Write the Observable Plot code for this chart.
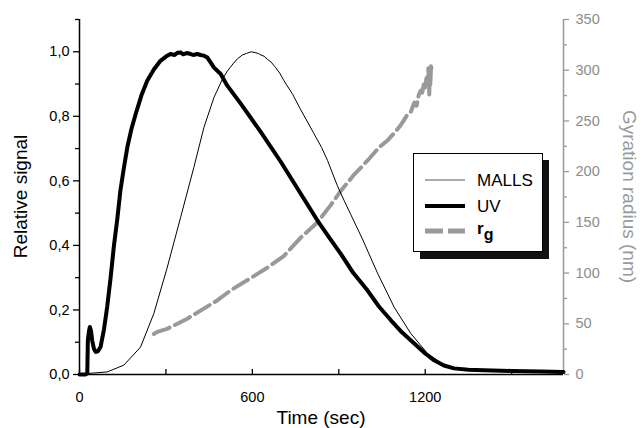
<!DOCTYPE html>
<html>
<head>
<meta charset="utf-8">
<script src="https://cdn.jsdelivr.net/npm/d3@7"></script>
<script src="https://cdn.jsdelivr.net/npm/@observablehq/plot@0.6"></script>
<style>
  html, body { margin: 0; padding: 0; background: #fff; }
  #chart svg { display: block; }
</style>
</head>
<body>
<div id="chart"></div>
<script>
// ---------- data ----------
const mallsTime   = [0, 27, 96, 154, 212, 258, 305, 351, 397, 432, 467, 496, 513, 535, 548, 565, 580, 596, 612, 622, 630, 641, 652, 665, 680, 695, 710, 740, 768, 790, 814, 840, 861, 895, 918, 942, 982, 1034, 1092, 1150, 1208, 1266, 1324, 1400, 1500, 1600, 1680];
const mallsSignal = [0, 0.003, 0.008, 0.029, 0.085, 0.189, 0.333, 0.487, 0.642, 0.766, 0.859, 0.915, 0.94, 0.965, 0.978, 0.99, 0.995, 1.0, 0.997, 0.994, 0.99, 0.986, 0.977, 0.968, 0.952, 0.934, 0.91, 0.868, 0.82, 0.785, 0.746, 0.704, 0.663, 0.585, 0.54, 0.495, 0.42, 0.315, 0.209, 0.127, 0.065, 0.029, 0.014, 0.01, 0.009, 0.008, 0.008];

const uvTime   = [0, 20, 27, 29, 33, 36, 40, 44, 50, 56, 64, 73, 85, 96, 108, 119, 131, 142, 154, 166, 180, 195, 215, 235, 258, 281, 300, 316, 330, 340, 351, 360, 372, 386, 395, 409, 420, 432, 444, 467, 490, 513, 559, 629, 698, 768, 826, 870, 907, 950, 1000, 1040, 1081, 1120, 1162, 1200, 1231, 1265, 1300, 1350, 1404, 1500, 1600, 1680];
const uvSignal = [0, 0, 0.003, 0.106, 0.135, 0.147, 0.135, 0.106, 0.08, 0.07, 0.072, 0.085, 0.14, 0.209, 0.3, 0.395, 0.48, 0.57, 0.64, 0.704, 0.76, 0.807, 0.865, 0.91, 0.945, 0.972, 0.985, 0.993, 0.99, 0.997, 0.998, 0.992, 0.996, 0.993, 0.99, 0.993, 0.99, 0.988, 0.982, 0.951, 0.931, 0.895, 0.84, 0.752, 0.66, 0.56, 0.477, 0.42, 0.374, 0.315, 0.26, 0.21, 0.168, 0.13, 0.096, 0.065, 0.044, 0.028, 0.019, 0.015, 0.013, 0.011, 0.009, 0.008];

const rgTime   = [258, 270, 304, 340, 374, 420, 478, 525, 594, 650, 710, 768, 826, 872, 907, 950, 1000, 1040, 1070, 1092, 1110, 1127, 1140, 1150, 1162, 1170, 1178, 1185, 1190, 1196, 1200, 1204, 1208, 1211, 1214, 1216, 1218, 1220, 1222];
const rgRadius = [40, 42, 45, 50, 55, 63, 73, 83, 95, 105, 117, 135, 150, 167, 181, 196, 211, 224, 231, 238, 244, 251, 257, 259, 268, 265, 276, 280, 278, 288, 283, 292, 290, 302, 276, 298, 285, 304, 300];

const xTicks       = [0, 600, 1200];
const xMinorTicks  = [300, 900, 1500];
const leftTicks    = [0, 0.2, 0.4, 0.6, 0.8, 1.0];
const leftMinor    = [0.1, 0.3, 0.5, 0.7, 0.9, 1.1];
const rightTicks   = [0, 50, 100, 150, 200, 250, 300, 350];
const rightMinor   = [25, 75, 125, 175, 225, 275, 325];

const seriesNames  = ["MALLS", "UV"];
const xLabel = "Time (sec)";
const yLabel = "Relative signal";
const y2Label = "Gyration radius (nm)";

// ---------- scales ----------
const xMax = 1680, yMax = 1.1, y2Max = 350;
const K = yMax / y2Max; // right-axis units -> left-axis units

const malls = mallsTime.map((t, i) => ({t, v: mallsSignal[i]}));
const uv = uvTime.map((t, i) => ({t, v: uvSignal[i]}));
const rg = rgTime.map((t, i) => ({t, v: rgRadius[i] * K}));

const W = 643, H = 428, mL = 79, mR = 80, mT = 19, mB = 54;
const frameH = H - mT - mB;
const gray = "#999999";
const grayText = "#8c8c8c";
const font = "'Liberation Sans', Arial, Helvetica, sans-serif";
const fmtComma = d => d.toFixed(1).replace(".", ",");

const svg = Plot.plot({
  width: W, height: H,
  marginLeft: mL, marginRight: mR, marginTop: mT, marginBottom: mB,
  style: {fontFamily: font, fontSize: "14.5px", background: "#fff", color: "#000", overflow: "visible"},
  x: {domain: [0, xMax]},
  y: {domain: [0, yMax]},
  marks: [
    // left axis
    Plot.axisY(leftTicks, {anchor: "left", tickSize: 6, tickPadding: 4, tickFormat: fmtComma, label: null, strokeWidth: 1.3}),
    Plot.axisY(leftMinor, {anchor: "left", tickSize: 4, tickPadding: 0, tickFormat: () => "", label: null, strokeWidth: 1.3}),
    // right axis (radius)
    Plot.axisY(rightTicks.map(d => d * K), {anchor: "right", tickSize: 5, tickPadding: 7, tickFormat: d => String(Math.round(d / K)), label: null, stroke: gray, fill: grayText, strokeWidth: 1.3}),
    Plot.axisY(rightMinor.map(d => d * K), {anchor: "right", tickSize: 3, tickPadding: 0, tickFormat: () => "", label: null, stroke: gray, strokeWidth: 1.3}),
    // bottom axis labels, inward ticks
    Plot.axisX(xTicks, {anchor: "bottom", tickSize: 0, tickPadding: 17, tickFormat: d => String(d), label: null}),
    Plot.tickX(xTicks.concat(xMinorTicks), {x: d => d, insetTop: frameH - 5, stroke: "#000", strokeWidth: 1.3}),
    // axis lines
    Plot.ruleX([xMax], {stroke: gray, strokeWidth: 1.5}),
    Plot.ruleX([0], {stroke: "#000", strokeWidth: 1.5}),
    Plot.ruleY([0], {stroke: "#000", strokeWidth: 1.5}),
    // series
    Plot.line(rg, {x: "t", y: "v", stroke: gray, strokeWidth: 4, strokeDasharray: "17,6", strokeLinejoin: "round"}),
    Plot.line(malls, {x: "t", y: "v", stroke: "#000", strokeWidth: 1}),
    Plot.line(uv, {x: "t", y: "v", stroke: "#000", strokeWidth: 4, strokeLinejoin: "round"})
  ]
});

document.getElementById("chart").appendChild(svg);

// ---------- axis titles ----------
const s = d3.select(svg);
s.append("text")
  .attr("transform", `translate(27,${mT + frameH / 2}) rotate(-90)`)
  .attr("text-anchor", "middle").attr("font-family", font).attr("font-size", 19).attr("fill", "#000")
  .text(yLabel);
s.append("text")
  .attr("x", 321).attr("y", 424)
  .attr("text-anchor", "middle").attr("font-family", font).attr("font-size", 19).attr("fill", "#000")
  .text(xLabel);
s.append("text")
  .attr("transform", `translate(623,${mT + frameH / 2}) rotate(90)`)
  .attr("text-anchor", "middle").attr("font-family", font).attr("font-size", 19).attr("fill", gray)
  .text(y2Label);

// ---------- legend ----------
const lg = s.append("g").attr("font-family", font).attr("font-size", 17).attr("text-anchor", "start");
lg.append("rect").attr("x", 420).attr("y", 160).attr("width", 129).attr("height", 99).attr("fill", "#111");
lg.append("rect").attr("x", 413.5).attr("y", 153.5).attr("width", 129).attr("height", 98)
  .attr("fill", "#fff").attr("stroke", "#000").attr("stroke-width", 1);
lg.append("line").attr("x1", 425).attr("x2", 465).attr("y1", 180).attr("y2", 180)
  .attr("stroke", "#444").attr("stroke-width", 0.9);
lg.append("text").attr("x", 477).attr("y", 186).attr("text-anchor", "start").text(seriesNames[0]);
lg.append("line").attr("x1", 425).attr("x2", 465).attr("y1", 206).attr("y2", 206)
  .attr("stroke", "#000").attr("stroke-width", 4);
lg.append("text").attr("x", 477).attr("y", 212).attr("text-anchor", "start").text(seriesNames[1]);
lg.append("line").attr("x1", 425).attr("x2", 465).attr("y1", 231).attr("y2", 231)
  .attr("stroke", gray).attr("stroke-width", 5).attr("stroke-dasharray", "18,5");
const rgText = lg.append("text").attr("x", 477).attr("y", 234).attr("text-anchor", "start").attr("font-weight", "bold");
rgText.append("tspan").text("r");
rgText.append("tspan").attr("dy", 6).attr("font-size", 16).text("g");
</script>
</body>
</html>
